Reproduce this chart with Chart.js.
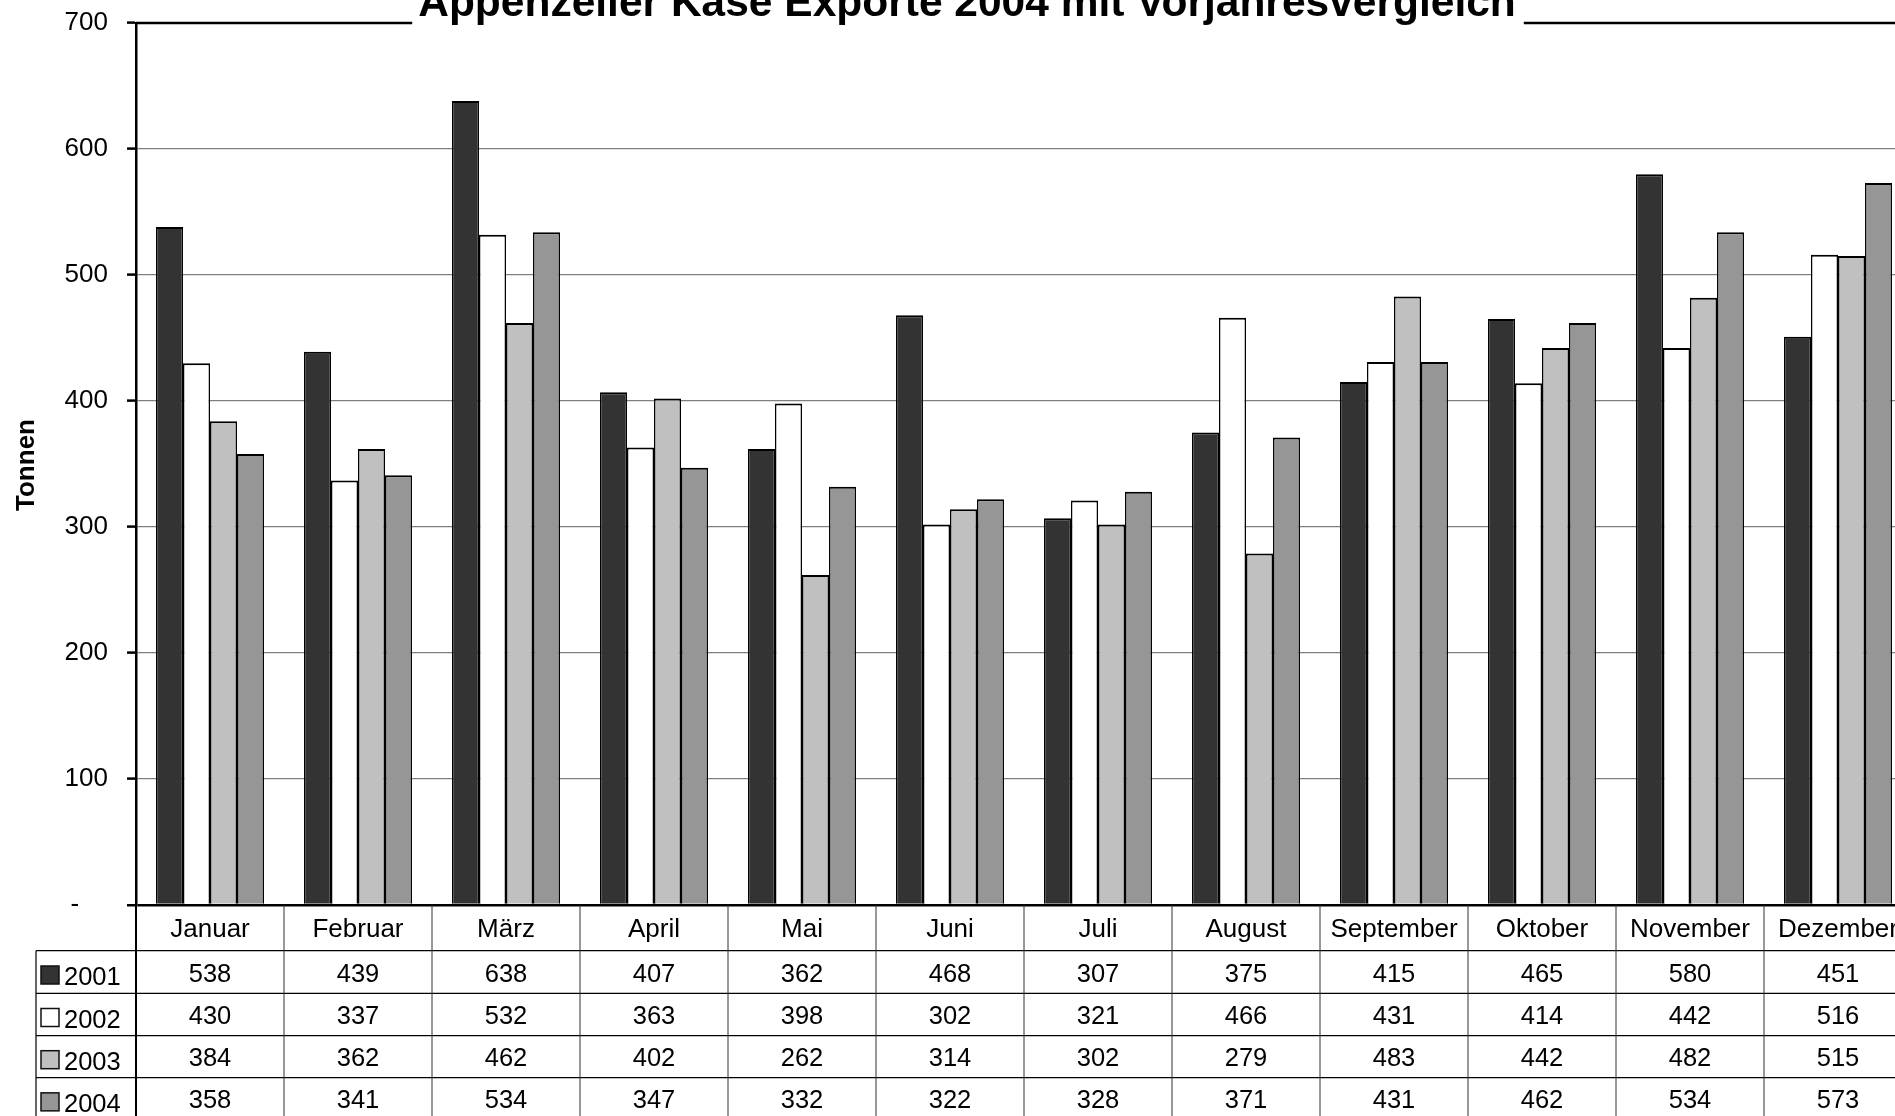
<!DOCTYPE html>
<html>
<head>
<meta charset="utf-8">
<title>Appenzeller Käse Exporte 2004</title>
<script src="https://cdn.jsdelivr.net/npm/chart.js@4.4.1/dist/chart.umd.min.js"></script>
<style>
	html, body { margin: 0; padding: 0; background: #fff; overflow: hidden; }
	#chart { display: block; }
</style>
</head>
<body>
<canvas id="chart" width="1920" height="1130"></canvas>
<script>
const months = ['Januar', 'Februar', 'März', 'April', 'Mai', 'Juni', 'Juli', 'August', 'September', 'Oktober', 'November', 'Dezember'];
const years = ['2001', '2002', '2003', '2004'];
const values2001 = [538, 439, 638, 407, 362, 468, 307, 375, 415, 465, 580, 451];
const values2002 = [430, 337, 532, 363, 398, 302, 321, 466, 431, 414, 442, 516];
const values2003 = [384, 362, 462, 402, 262, 314, 302, 279, 483, 442, 482, 515];
const values2004 = [358, 341, 534, 347, 332, 322, 328, 371, 431, 462, 534, 573];
const yTicks = [0, 100, 200, 300, 400, 500, 600, 700];

const chartTitle = 'Appenzeller Käse Exporte 2004 mit Vorjahresvergleich';
const axisTitle = 'Tonnen';
const colors = ['#333333', '#ffffff', '#c0c0c0', '#969696'];
const FONT = '"Liberation Sans", Arial, sans-serif';

Chart.defaults.font.family = FONT;
Chart.defaults.color = '#000';

const seriesValues = [values2001, values2002, values2003, values2004];

// title, top border with gap and the data table under the plot
const tablePlugin = {
	id: 'tablePlugin',
	afterDraw(chart) {
		const ctx = chart.ctx;
		const area = chart.chartArea;
		const xs = chart.scales.x;
		const colW = xs.getPixelForValue(1) - xs.getPixelForValue(0);

		ctx.save();

		// title
		ctx.font = 'bold 42.5px ' + FONT;
		ctx.fillStyle = '#000';
		ctx.textAlign = 'center';
		ctx.textBaseline = 'alphabetic';
		const titleX = 967;
		ctx.fillText(chartTitle, titleX, 15.5);
		const tw = ctx.measureText(chartTitle).width;

		// top border of the plot, broken by the title
		ctx.strokeStyle = '#000';
		ctx.lineWidth = 2.5;
		ctx.beginPath();
		ctx.moveTo(area.left, area.top);
		ctx.lineTo(titleX - tw / 2 - 6, area.top);
		ctx.moveTo(titleX + tw / 2 + 8, area.top);
		ctx.lineTo(area.right, area.top);
		ctx.stroke();

		// y axis title
		ctx.save();
		ctx.translate(27, 465);
		ctx.rotate(-Math.PI / 2);
		ctx.font = 'bold 26px ' + FONT;
		ctx.textAlign = 'center';
		ctx.textBaseline = 'middle';
		ctx.fillText(axisTitle, 0, 0);
		ctx.restore();

		// table rows
		const catTop = area.bottom;
		const rowTops = [950.7, 993.3, 1035.7, 1077.7, 1120];
		const legendLeft = 36;

		ctx.lineWidth = 1.2;
		ctx.strokeStyle = '#000';
		ctx.beginPath();
		rowTops.forEach(function (y) {
			ctx.moveTo(legendLeft, y);
			ctx.lineTo(area.right, y);
		});
		ctx.moveTo(legendLeft, rowTops[0]);
		ctx.lineTo(legendLeft, chart.height);
		ctx.stroke();

		ctx.strokeStyle = '#333';
		ctx.lineWidth = 1;
		ctx.beginPath();
		for (let i = 1; i <= months.length; i++)
		{
			const x = xs.getPixelForValue(i - 1) + colW / 2;
			ctx.moveTo(x, catTop);
			ctx.lineTo(x, chart.height);
		}
		ctx.stroke();

		ctx.strokeStyle = '#000';
		ctx.lineWidth = 2;
		ctx.beginPath();
		ctx.moveTo(area.left, catTop);
		ctx.lineTo(area.left, chart.height);
		ctx.stroke();

		// category labels
		ctx.fillStyle = '#000';
		ctx.textAlign = 'center';
		ctx.textBaseline = 'alphabetic';
		ctx.font = '26px ' + FONT;
		const catMid = (catTop + rowTops[0]) / 2;
		months.forEach(function (m, i) {
			ctx.fillText(m, xs.getPixelForValue(i), catMid + 9);
		});

		// values
		ctx.font = '25.5px ' + FONT;
		seriesValues.forEach(function (vals, r) {
			const mid = (rowTops[r] + rowTops[r + 1]) / 2;
			vals.forEach(function (v, i) {
				ctx.fillText(String(v), xs.getPixelForValue(i), mid + 9.5);
			});
		});

		// legend keys
		ctx.textAlign = 'left';
		years.forEach(function (yr, r) {
			const mid = (rowTops[r] + rowTops[r + 1]) / 2;
			ctx.fillStyle = colors[r];
			ctx.fillRect(41, mid - 6, 18, 18);
			ctx.strokeStyle = '#111';
			ctx.lineWidth = 1.5;
			ctx.strokeRect(41, mid - 6, 18, 18);
			ctx.fillStyle = '#000';
			ctx.fillText(yr, 64, mid + 13);
		});

		ctx.restore();
	}
};

const ctx = document.getElementById('chart').getContext('2d');
new Chart(ctx, {
	type: 'bar',
	data: {
		labels: months,
		datasets: years.map(function (yr, i) {
			return {
				label: yr,
				data: seriesValues[i],
				backgroundColor: colors[i],
				borderColor: '#000',
				borderWidth: { top: 2, left: 1.5, right: 1.5, bottom: 0 },
				borderSkipped: false,
				categoryPercentage: 0.73,
				barPercentage: 1.0
			};
		})
	},
	options: {
		responsive: false,
		animation: false,
		devicePixelRatio: 1,
		layout: {
			padding: { top: 23, bottom: 225, left: 0, right: 8 }
		},
		plugins: {
			legend: { display: false },
			title: { display: false },
			tooltip: { enabled: false }
		},
		scales: {
			x: {
				display: false
			},
			y: {
				min: 0,
				max: 700,
				afterBuildTicks: function (scale) {
					scale.ticks = yTicks.map(function (v) { return { value: v }; });
				},
				afterFit: function (scale) {
					scale.width = 136;
					scale.paddingTop = 0;
					scale.paddingBottom = 0;
				},
				ticks: {
					font: { size: 26 },
					color: '#000',
					padding: 19,
					callback: function (v) { return v === 0 ? '-    ' : String(v); }
				},
				grid: {
					drawTicks: true,
					tickLength: 9,
					tickColor: '#000',
					tickWidth: 2.5,
					color: function (c) {
						if (c.tick && c.tick.value === 0) return '#000';
						if (c.tick && c.tick.value === 700) return 'rgba(0,0,0,0)';
						return '#808080';
					},
					lineWidth: function (c) {
						return (c.tick && c.tick.value === 0) ? 2.5 : 1.2;
					}
				},
				border: { display: true, color: '#000', width: 2.5 }
			}
		}
	},
	plugins: [tablePlugin]
});
</script>
</body>
</html>
